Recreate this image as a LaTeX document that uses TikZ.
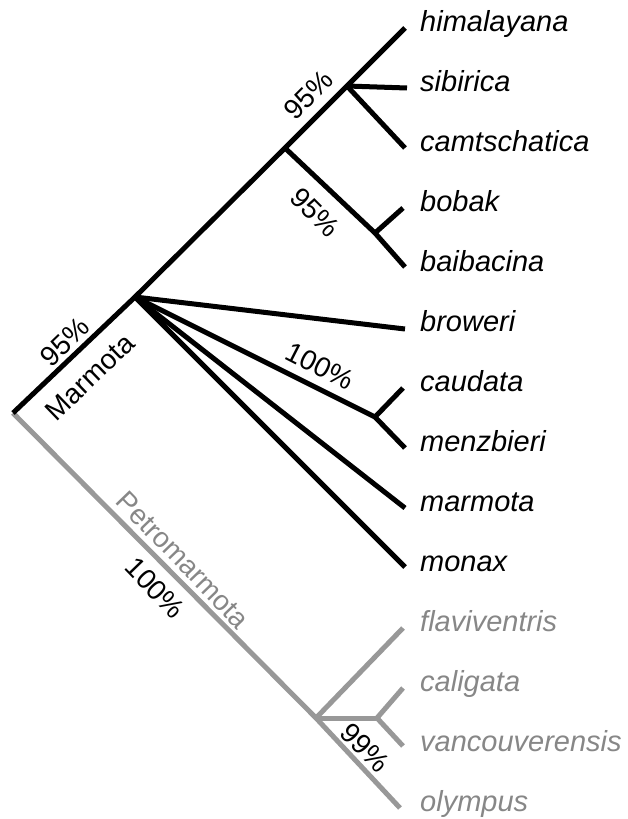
\documentclass[tikz,border=0pt]{standalone}
\usepackage{fontspec}
\setmainfont{Liberation Sans}
\definecolor{gline}{RGB}{152,152,152}
\definecolor{gtext}{RGB}{135,135,135}
\begin{document}
\begin{tikzpicture}[x=1pt,y=-1pt,
  br/.style={line width=5pt,black,line join=miter},
  gbr/.style={line width=5pt,gline,line join=miter},
  taxon/.style={anchor=mid west,inner sep=0pt,font=\fontsize{29}{30}\selectfont\itshape},
  gtaxon/.style={taxon,text=gtext},
  supp/.style={inner sep=0pt,font=\fontsize{28}{30}\selectfont}]
\useasboundingbox[fill=white] (0,0) rectangle (628,819);
% coordinates of tree nodes and tips
\coordinate (root) at (13,413);
\coordinate (mnode) at (135,297);
\coordinate (n1) at (285,148);
\coordinate (n2) at (347,86);
\coordinate (t1) at (405,28);
\coordinate (t2) at (407,88);
\coordinate (t3) at (405,148);
\coordinate (n3) at (375,233);
\coordinate (t4) at (403,208);
\coordinate (t5) at (405,267);
\coordinate (t6) at (405,329);
\coordinate (n4) at (375,417);
\coordinate (t7) at (403,388);
\coordinate (t8) at (405,448);
\coordinate (t9) at (405,508);
\coordinate (t10) at (405,567);
\coordinate (gnode) at (316,718);
\coordinate (gn2) at (377,718);
\coordinate (t11) at (403,628);
\coordinate (t12) at (403,688);
\coordinate (t13) at (403,746);
\coordinate (t14) at (400,808);
% gray clade
\draw[gbr] (root) -- (gnode) -- (t14);
\draw[gbr] (gnode) -- (t11);
\draw[gbr] (gnode) -- (gn2);
\draw[gbr] (gn2) -- (t12);
\draw[gbr] (gn2) -- (t13);
% black clade
\draw[br] (root) -- (mnode) -- (n1) -- (n2) -- (t1);
\draw[br] (n2) -- (t2);
\draw[br] (n2) -- (t3);
\draw[br] (n1) -- (n3) -- (t5);
\draw[br] (n3) -- (t4);
\draw[br] (mnode) -- (t6);
\draw[br] (mnode) -- (n4) -- (t8);
\draw[br] (n4) -- (t7);
\draw[br] (mnode) -- (t9);
\draw[br] (mnode) -- (t10);
% taxa
\node[taxon] (l1) at (420,29) {himalayana};
\node[taxon] (l2) at (420,89) {sibirica};
\node[taxon] (l3) at (420,149) {camtschatica};
\node[taxon] (l4) at (420,209) {bobak};
\node[taxon] (l5) at (420,269) {baibacina};
\node[taxon] (l6) at (420,329) {broweri};
\node[taxon] (l7) at (420,389) {caudata};
\node[taxon] (l8) at (420,449) {menzbieri};
\node[taxon] (l9) at (420,509) {marmota};
\node[taxon] (l10) at (420,569) {monax};
\node[gtaxon] (l11) at (420,629) {flaviventris};
\node[gtaxon] (l12) at (420,689) {caligata};
\node[gtaxon] (l13) at (420,749) {vancouverensis};
\node[gtaxon] (l14) at (420,809) {olympus};
% branch labels
\node[supp,rotate=44] (s1) at (65,342) {95\%};
\node[supp,rotate=44] (cm) at (90,377) {Marmota};
\node[supp,rotate=45] (s2) at (308,95) {95\%};
\node[supp,rotate=-45] (s3) at (315,212) {95\%};
\node[supp,rotate=-27] (s4) at (320,366) {100\%};
\node[supp,rotate=-46,text=gtext] (cp) at (183,560) {Petromarmota};
\node[supp,rotate=-46] (s5) at (155,588) {100\%};
\node[supp,rotate=-46] (s6) at (365,748) {99\%};
\end{tikzpicture}
\end{document}
